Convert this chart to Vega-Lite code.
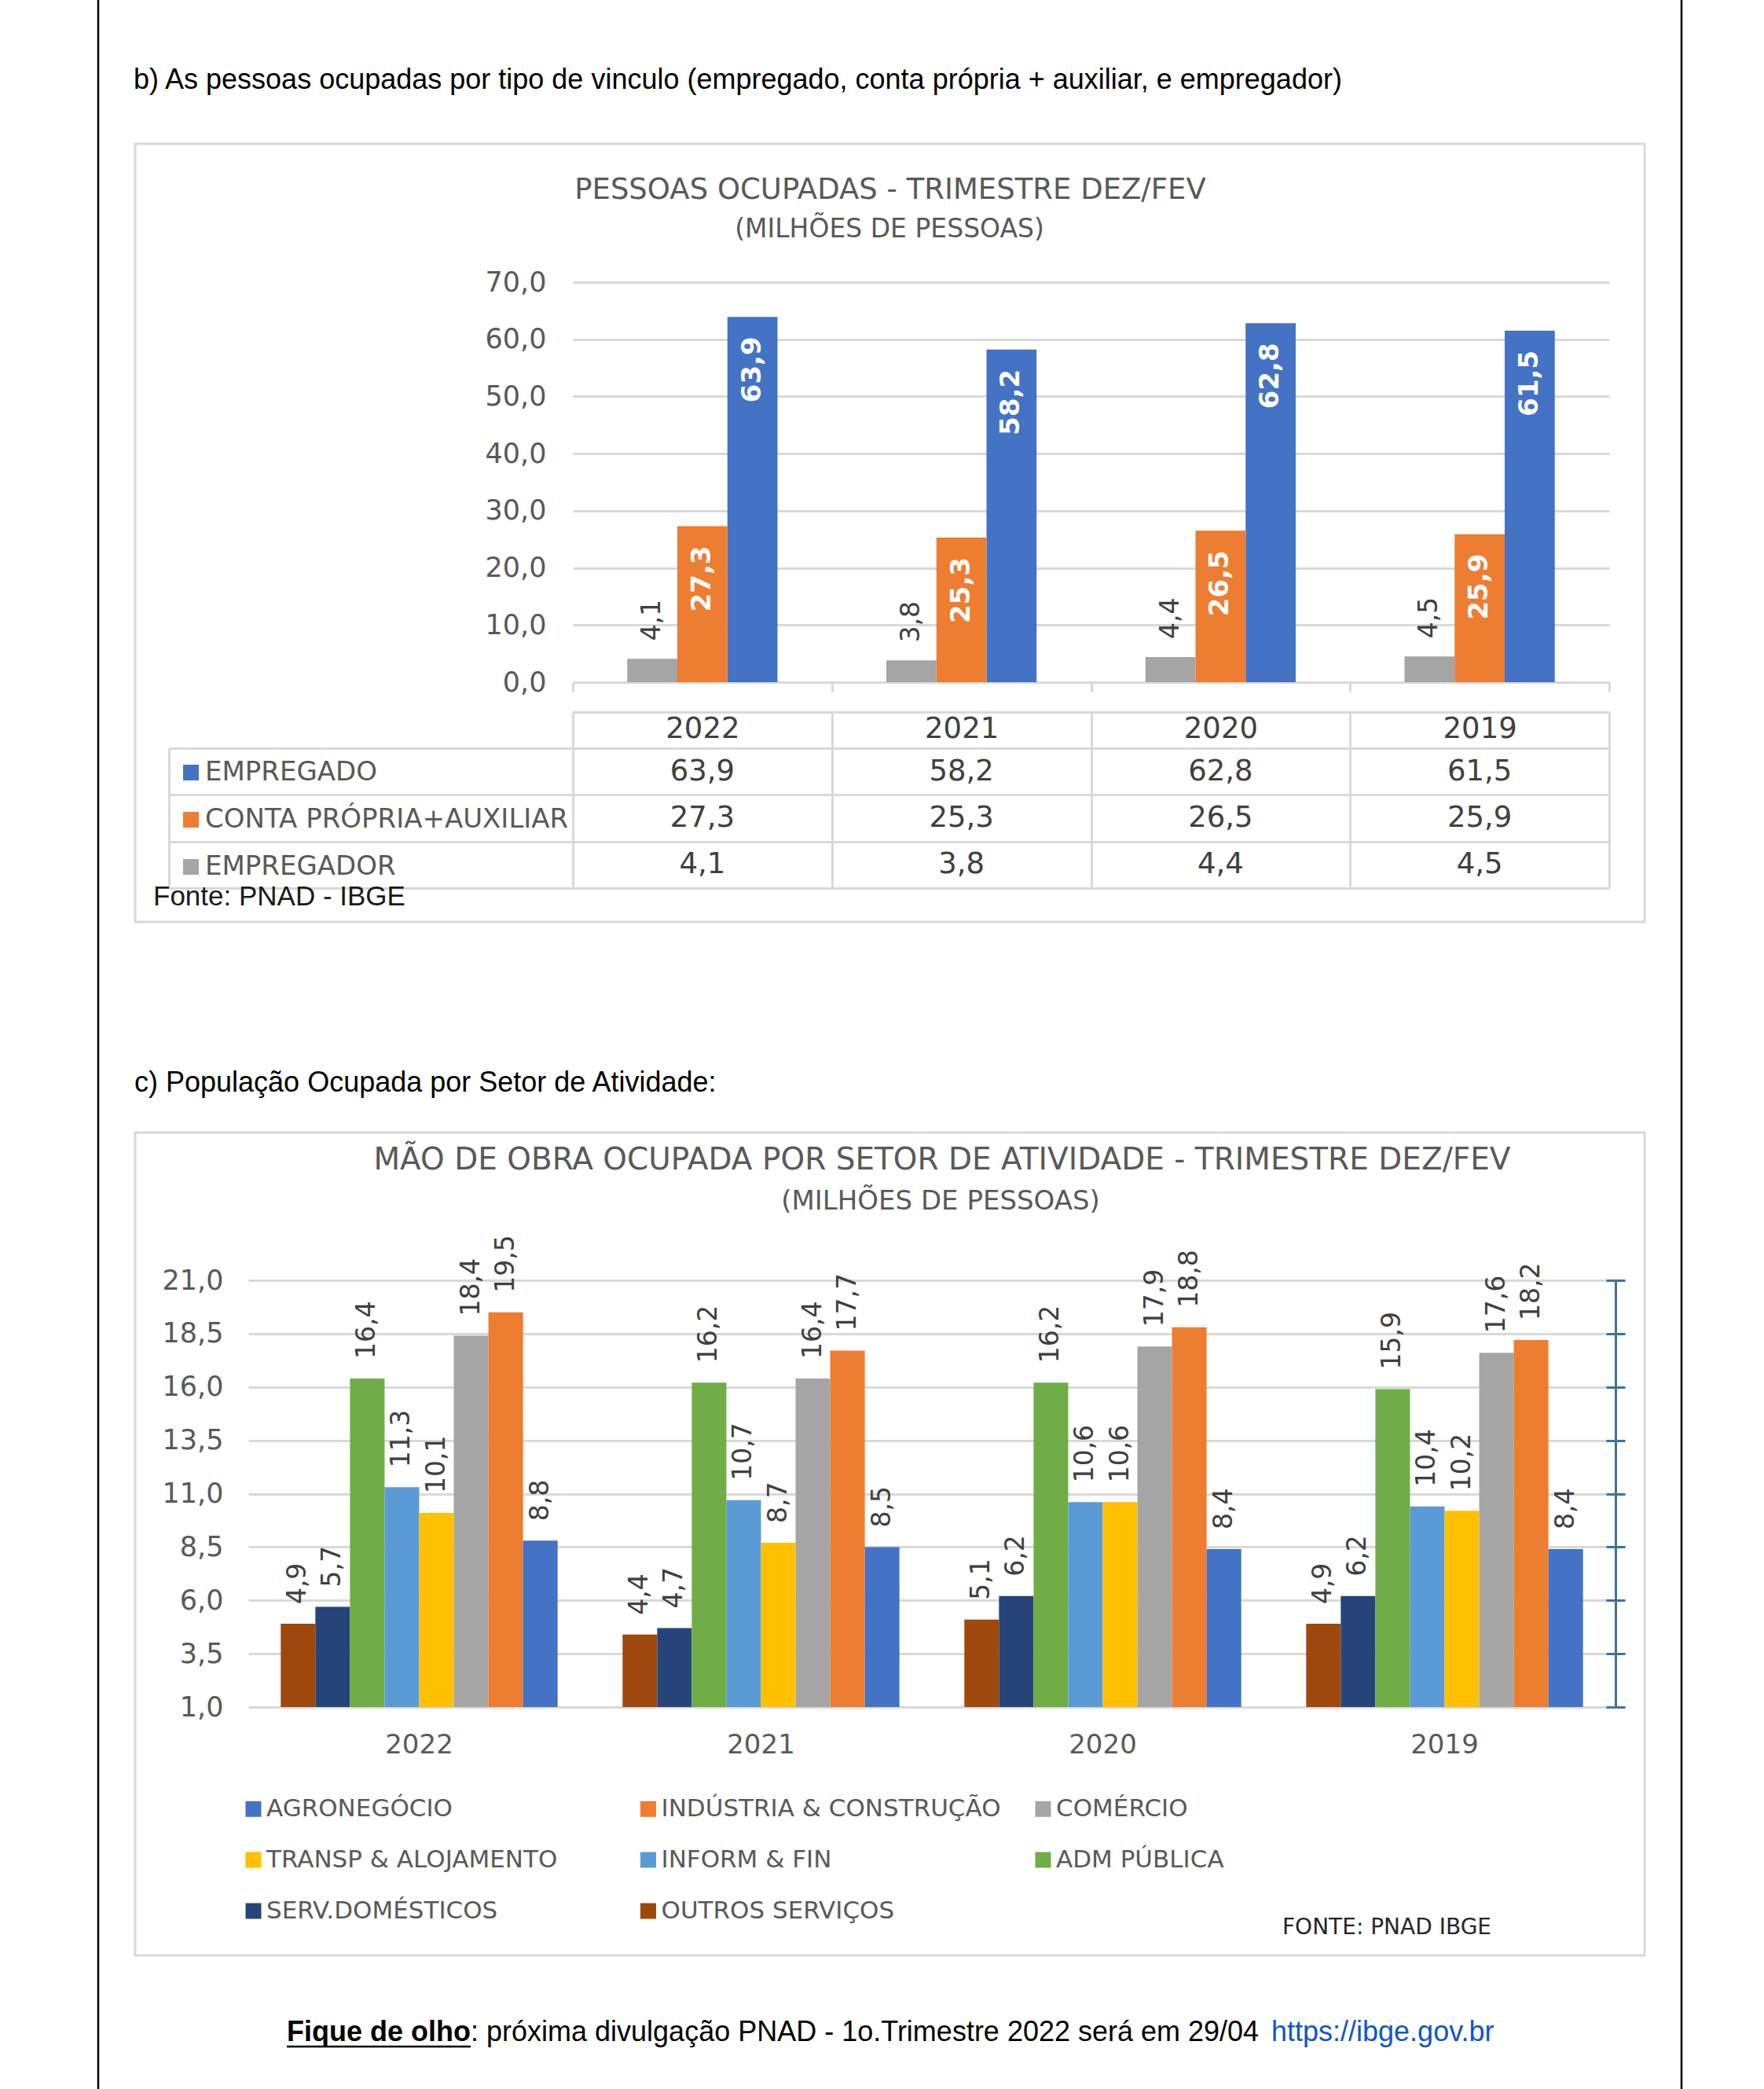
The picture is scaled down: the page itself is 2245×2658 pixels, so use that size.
{
  "$schema": "https://vega.github.io/schema/vega-lite/v6.json",
  "width": 2245,
  "height": 2658,
  "autosize": {"type": "none"},
  "padding": 0,
  "background": "white",
  "config": {
    "view": {"stroke": null},
    "locale": {"number": {"decimal": ",", "thousands": ".", "grouping": [3], "currency": ["R$", ""]}},
    "text": {"font": "DejaVu Sans"},
    "axis": {"labelFont": "DejaVu Sans", "titleFont": "DejaVu Sans"},
    "legend": {"labelFont": "DejaVu Sans"}
  },
  "datasets": {
    "c1": [
      {"ano": "2022", "tipo": "Empregado", "v": 63.9},
      {"ano": "2022", "tipo": "Conta Própria+Auxiliar", "v": 27.3},
      {"ano": "2022", "tipo": "Empregador", "v": 4.1},
      {"ano": "2021", "tipo": "Empregado", "v": 58.2},
      {"ano": "2021", "tipo": "Conta Própria+Auxiliar", "v": 25.3},
      {"ano": "2021", "tipo": "Empregador", "v": 3.8},
      {"ano": "2020", "tipo": "Empregado", "v": 62.8},
      {"ano": "2020", "tipo": "Conta Própria+Auxiliar", "v": 26.5},
      {"ano": "2020", "tipo": "Empregador", "v": 4.4},
      {"ano": "2019", "tipo": "Empregado", "v": 61.5},
      {"ano": "2019", "tipo": "Conta Própria+Auxiliar", "v": 25.9},
      {"ano": "2019", "tipo": "Empregador", "v": 4.5}
    ],
    "c2": [
      {"ano": "2022", "setor": "Outros Serviços", "v": 4.9},
      {"ano": "2022", "setor": "Serv.Domésticos", "v": 5.7},
      {"ano": "2022", "setor": "Adm Pública", "v": 16.4},
      {"ano": "2022", "setor": "Inform & Fin", "v": 11.3},
      {"ano": "2022", "setor": "Transp & Alojamento", "v": 10.1},
      {"ano": "2022", "setor": "Comércio", "v": 18.4},
      {"ano": "2022", "setor": "Indústria & Construção", "v": 19.5},
      {"ano": "2022", "setor": "Agronegócio", "v": 8.8},
      {"ano": "2021", "setor": "Outros Serviços", "v": 4.4},
      {"ano": "2021", "setor": "Serv.Domésticos", "v": 4.7},
      {"ano": "2021", "setor": "Adm Pública", "v": 16.2},
      {"ano": "2021", "setor": "Inform & Fin", "v": 10.7},
      {"ano": "2021", "setor": "Transp & Alojamento", "v": 8.7},
      {"ano": "2021", "setor": "Comércio", "v": 16.4},
      {"ano": "2021", "setor": "Indústria & Construção", "v": 17.7},
      {"ano": "2021", "setor": "Agronegócio", "v": 8.5},
      {"ano": "2020", "setor": "Outros Serviços", "v": 5.1},
      {"ano": "2020", "setor": "Serv.Domésticos", "v": 6.2},
      {"ano": "2020", "setor": "Adm Pública", "v": 16.2},
      {"ano": "2020", "setor": "Inform & Fin", "v": 10.6},
      {"ano": "2020", "setor": "Transp & Alojamento", "v": 10.6},
      {"ano": "2020", "setor": "Comércio", "v": 17.9},
      {"ano": "2020", "setor": "Indústria & Construção", "v": 18.8},
      {"ano": "2020", "setor": "Agronegócio", "v": 8.4},
      {"ano": "2019", "setor": "Outros Serviços", "v": 4.9},
      {"ano": "2019", "setor": "Serv.Domésticos", "v": 6.2},
      {"ano": "2019", "setor": "Adm Pública", "v": 15.9},
      {"ano": "2019", "setor": "Inform & Fin", "v": 10.4},
      {"ano": "2019", "setor": "Transp & Alojamento", "v": 10.2},
      {"ano": "2019", "setor": "Comércio", "v": 17.6},
      {"ano": "2019", "setor": "Indústria & Construção", "v": 18.2},
      {"ano": "2019", "setor": "Agronegócio", "v": 8.4}
    ]
  },
  "layer": [
    {
      "data": {"values": [{"k": "b"}]},
      "mark": {"type": "rect", "filled": false, "color": "#d9d9d9", "strokeWidth": 3},
      "encoding": {"x": {"value": 172}, "x2": {"value": 2093}, "y": {"value": 183}, "y2": {"value": 1173}}
    },
    {
      "data": {"values": [{"k": "c"}]},
      "mark": {"type": "rect", "filled": false, "color": "#d9d9d9", "strokeWidth": 3},
      "encoding": {"x": {"value": 172}, "x2": {"value": 2093}, "y": {"value": 1441}, "y2": {"value": 2488}}
    },
    {
      "data": {"values": [{"k": "l"}]},
      "mark": {"type": "rule", "color": "#000000", "strokeWidth": 2.5},
      "encoding": {"x": {"value": 125}}
    },
    {
      "data": {"values": [{"k": "r"}]},
      "mark": {"type": "rule", "color": "#000000", "strokeWidth": 2.5},
      "encoding": {"x": {"value": 2140}}
    },
    {
      "data": {"name": "c1"},
      "encoding": {
        "x": {"field": "ano", "type": "nominal",
              "scale": {"domain": ["2022", "2021", "2020", "2019"], "range": [729, 2048], "paddingInner": 0.42, "paddingOuter": 0.21},
              "axis": null},
        "y": {"field": "v", "type": "quantitative",
              "scale": {"domain": [0, 70], "range": [868, 359], "nice": false, "zero": false},
              "axis": {"orient": "left", "offset": -729, "title": null, "values": [0, 10, 20, 30, 40, 50, 60, 70], "format": ".1f",
                       "grid": true, "gridColor": "#d9d9d9", "gridWidth": 3, "domain": false, "ticks": false,
                       "labelPadding": 34, "labelFontSize": 35, "labelColor": "#595959"}},
        "xOffset": {"field": "tipo", "type": "nominal",
                    "scale": {"domain": ["Empregador", "Conta Própria+Auxiliar", "Empregado"], "paddingInner": 0, "paddingOuter": 0}}
      },
      "layer": [
        {
          "mark": {"type": "bar"},
          "encoding": {
            "y2": {"datum": 0},
            "color": {"field": "tipo", "type": "nominal",
                      "scale": {"domain": ["Empregado", "Conta Própria+Auxiliar", "Empregador"], "range": ["#4472c4", "#ed7d31", "#a5a5a5"]},
                      "legend": {"orient": "none", "legendX": 226, "legendY": 966, "title": null, "direction": "vertical",
                                 "symbolType": "square", "symbolSize": 400, "symbolStrokeWidth": 0,
                                 "labelFontSize": 34, "labelColor": "#595959", "labelOffset": 1, "rowPadding": 26,
                                 "padding": 0, "labelLimit": 1000, "labelExpr": "upper(datum.label)"}}
          }
        },
        {
          "transform": [{"filter": "datum.tipo != 'Empregador'"}],
          "mark": {"type": "text", "angle": 270, "align": "right", "baseline": "middle", "dx": -25,
                   "fontSize": 34, "fontWeight": "bold", "color": "#ffffff"},
          "encoding": {"text": {"field": "v", "type": "quantitative", "format": ".1f"}}
        },
        {
          "transform": [{"filter": "datum.tipo == 'Empregador'"}],
          "mark": {"type": "text", "angle": 270, "align": "left", "baseline": "middle", "dx": 23,
                   "fontSize": 33, "color": "#404040"},
          "encoding": {"text": {"field": "v", "type": "quantitative", "format": ".1f"}}
        }
      ]
    },
    {
      "data": {"name": "c1"},
      "layer": [
        {
          "mark": {"type": "text", "fontSize": 37, "color": "#404040", "baseline": "middle", "align": "center"},
          "encoding": {
            "text": {"field": "v", "type": "quantitative", "format": ".1f"},
            "x": {"field": "ano", "type": "nominal",
                  "scale": {"domain": ["2022", "2021", "2020", "2019"], "range": [729, 2048], "paddingInner": 0, "paddingOuter": 0},
                  "axis": {"orient": "top", "offset": -906, "title": null, "labelAngle": 0,
                           "domain": true, "domainColor": "#d9d9d9", "domainWidth": 3,
                           "ticks": true, "tickBand": "extent", "tickSize": -46, "tickColor": "#d9d9d9", "tickWidth": 3,
                           "grid": true, "gridColor": "#d9d9d9", "gridWidth": 3,
                           "labelFontSize": 37, "labelColor": "#404040", "labelPadding": 25, "labelBaseline": "middle"}},
            "y": {"field": "tipo", "type": "nominal",
                  "scale": {"domain": ["Empregado", "Conta Própria+Auxiliar", "Empregador"], "range": [952, 1130], "paddingInner": 0, "paddingOuter": 0},
                  "axis": {"orient": "left", "offset": -215, "title": null, "labels": false,
                           "domain": true, "domainColor": "#d9d9d9", "domainWidth": 3,
                           "ticks": true, "tickBand": "extent", "tickSize": -514, "tickColor": "#d9d9d9", "tickWidth": 3,
                           "grid": true, "gridColor": "#d9d9d9", "gridWidth": 3}}
          }
        },
        {
          "mark": {"type": "text", "opacity": 0},
          "encoding": {
            "text": {"field": "v", "type": "quantitative"},
            "x": {"field": "ano", "type": "nominal",
                  "scale": {"domain": ["2022", "2021", "2020", "2019"], "range": [729, 2048], "paddingInner": 0, "paddingOuter": 0},
                  "axis": {"orient": "bottom", "offset": -1790, "title": null, "labels": false, "domain": false, "grid": false,
                           "ticks": true, "tickBand": "extent", "tickSize": 12, "tickColor": "#d9d9d9", "tickWidth": 3}},
            "y": {"field": "tipo", "type": "nominal",
                  "scale": {"domain": ["Empregado", "Conta Própria+Auxiliar", "Empregador"], "range": [952, 1130], "paddingInner": 0, "paddingOuter": 0},
                  "axis": null}
          }
        }
      ],
      "resolve": {"axis": {"x": "independent", "y": "independent"}}
    },
    {
      "data": {"name": "c2"},
      "encoding": {
        "x": {"field": "ano", "type": "nominal",
              "scale": {"domain": ["2022", "2021", "2020", "2019"], "range": [316, 2056], "paddingInner": 0.19, "paddingOuter": 0.095},
              "axis": {"orient": "bottom", "offset": -486, "title": null, "labelAngle": 0, "domain": false, "ticks": false, "grid": false,
                       "labelFontSize": 34, "labelColor": "#595959", "labelPadding": 31}},
        "xOffset": {"field": "setor", "type": "nominal",
                    "scale": {"domain": ["Outros Serviços", "Serv.Domésticos", "Adm Pública", "Inform & Fin", "Transp & Alojamento", "Comércio", "Indústria & Construção", "Agronegócio"],
                              "paddingInner": 0, "paddingOuter": 0}}
      },
      "layer": [
        {
          "mark": {"type": "bar"},
          "encoding": {
            "y": {"field": "v", "type": "quantitative",
                  "scale": {"domain": [1, 21], "range": [2172, 1629], "nice": false, "zero": false},
                  "axis": {"orient": "left", "offset": -316, "title": null, "values": [1, 3.5, 6, 8.5, 11, 13.5, 16, 18.5, 21], "format": ".1f",
                           "grid": true, "gridColor": "#d9d9d9", "gridWidth": 3, "domain": false, "ticks": false,
                           "labelPadding": 32, "labelFontSize": 35, "labelColor": "#595959"}},
            "y2": {"datum": 1},
            "color": {"field": "setor", "type": "nominal",
                      "scale": {"domain": ["Agronegócio", "Indústria & Construção", "Comércio", "Transp & Alojamento", "Inform & Fin", "Adm Pública", "Serv.Domésticos", "Outros Serviços"],
                                "range": ["#4472c4", "#ed7d31", "#a5a5a5", "#ffc000", "#5b9bd5", "#70ad47", "#264478", "#9e480e"]},
                      "legend": {"orient": "none", "legendX": 307, "legendY": 2286, "title": null, "columns": 3, "columnPadding": 37.5,
                                 "rowPadding": 33, "gridAlign": "all", "direction": "horizontal",
                                 "symbolType": "square", "symbolSize": 400, "symbolStrokeWidth": 0,
                                 "labelFontSize": 31, "labelColor": "#595959", "labelOffset": 1,
                                 "padding": 0, "labelLimit": 1000, "labelExpr": "upper(datum.label)"}}
          }
        },
        {
          "mark": {"type": "text", "angle": 270, "align": "left", "baseline": "middle", "dx": 25, "fontSize": 33, "color": "#404040"},
          "encoding": {
            "text": {"field": "v", "type": "quantitative", "format": ".1f"},
            "y": {"field": "v", "type": "quantitative",
                  "scale": {"domain": [1, 21], "range": [2172, 1629], "nice": false, "zero": false},
                  "axis": {"orient": "right", "offset": -189, "title": null, "values": [1, 3.5, 6, 8.5, 11, 13.5, 16, 18.5, 21],
                           "labels": false, "grid": false, "domain": true, "domainColor": "#41719c", "domainWidth": 3,
                           "ticks": true, "tickSize": 12, "tickColor": "#41719c", "tickWidth": 3}}
          }
        },
        {
          "mark": {"type": "text", "opacity": 0},
          "encoding": {
            "text": {"field": "v", "type": "quantitative"},
            "y": {"field": "v", "type": "quantitative",
                  "scale": {"domain": [1, 21], "range": [2172, 1629], "nice": false, "zero": false},
                  "axis": {"orient": "right", "offset": -189, "title": null, "values": [1, 3.5, 6, 8.5, 11, 13.5, 16, 18.5, 21],
                           "labels": false, "grid": false, "domain": false,
                           "ticks": true, "tickSize": -12, "tickColor": "#41719c", "tickWidth": 3}}
          }
        }
      ],
      "resolve": {"axis": {"y": "independent"}}
    },
    {
      "data": {"values": [{"t": "b) As pessoas ocupadas por tipo de vinculo (empregado, conta própria + auxiliar, e empregador)"}]},
      "mark": {"type": "text", "font": "Liberation Sans", "fontSize": 36, "align": "left", "baseline": "middle", "color": "#000000"},
      "encoding": {"text": {"field": "t", "type": "nominal"}, "x": {"value": 170}, "y": {"value": 102}}
    },
    {
      "data": {"values": [{"t": "c) População Ocupada por Setor de Atividade:"}]},
      "mark": {"type": "text", "font": "Liberation Sans", "fontSize": 36, "align": "left", "baseline": "middle", "color": "#000000"},
      "encoding": {"text": {"field": "t", "type": "nominal"}, "x": {"value": 171}, "y": {"value": 1378}}
    },
    {
      "data": {"values": [{"t": "PESSOAS OCUPADAS - TRIMESTRE DEZ/FEV"}]},
      "mark": {"type": "text", "fontSize": 37, "align": "center", "baseline": "middle", "color": "#595959"},
      "encoding": {"text": {"field": "t", "type": "nominal"}, "x": {"value": 1133}, "y": {"value": 242}}
    },
    {
      "data": {"values": [{"t": "(MILHÕES DE PESSOAS)"}]},
      "mark": {"type": "text", "fontSize": 33, "align": "center", "baseline": "middle", "color": "#595959"},
      "encoding": {"text": {"field": "t", "type": "nominal"}, "x": {"value": 1132}, "y": {"value": 292}}
    },
    {
      "data": {"values": [{"t": "MÃO DE OBRA OCUPADA POR SETOR DE ATIVIDADE - TRIMESTRE DEZ/FEV"}]},
      "mark": {"type": "text", "fontSize": 39, "align": "center", "baseline": "middle", "color": "#595959"},
      "encoding": {"text": {"field": "t", "type": "nominal"}, "x": {"value": 1199}, "y": {"value": 1476}}
    },
    {
      "data": {"values": [{"t": "(MILHÕES DE PESSOAS)"}]},
      "mark": {"type": "text", "fontSize": 34, "align": "center", "baseline": "middle", "color": "#595959"},
      "encoding": {"text": {"field": "t", "type": "nominal"}, "x": {"value": 1197}, "y": {"value": 1529}}
    },
    {
      "data": {"values": [{"t": "Fonte: PNAD - IBGE"}]},
      "mark": {"type": "text", "font": "Liberation Sans", "fontSize": 35, "align": "left", "baseline": "middle", "color": "#1a1a1a"},
      "encoding": {"text": {"field": "t", "type": "nominal"}, "x": {"value": 195}, "y": {"value": 1141}}
    },
    {
      "data": {"values": [{"t": "FONTE: PNAD IBGE"}]},
      "mark": {"type": "text", "fontSize": 28, "align": "left", "baseline": "middle", "color": "#262626"},
      "encoding": {"text": {"field": "t", "type": "nominal"}, "x": {"value": 1632}, "y": {"value": 2453}}
    },
    {
      "data": {"values": [{"t": "Fique de olho"}]},
      "mark": {"type": "text", "font": "Liberation Sans", "fontSize": 36, "fontWeight": "bold", "align": "right", "baseline": "middle", "color": "#000000"},
      "encoding": {"text": {"field": "t", "type": "nominal"}, "x": {"value": 599}, "y": {"value": 2586}}
    },
    {
      "data": {"values": [{"t": ": próxima divulgação PNAD - 1o.Trimestre 2022 será em 29/04"}]},
      "mark": {"type": "text", "font": "Liberation Sans", "fontSize": 36, "align": "left", "baseline": "middle", "color": "#000000"},
      "encoding": {"text": {"field": "t", "type": "nominal"}, "x": {"value": 599}, "y": {"value": 2586}}
    },
    {
      "data": {"values": [{"t": "https://ibge.gov.br"}]},
      "mark": {"type": "text", "font": "Liberation Sans", "fontSize": 36, "align": "left", "baseline": "middle", "color": "#1155cc"},
      "encoding": {"text": {"field": "t", "type": "nominal"}, "x": {"value": 1618}, "y": {"value": 2586}}
    },
    {
      "data": {"values": [{"k": "u"}]},
      "mark": {"type": "rule", "color": "#000000", "strokeWidth": 2.5},
      "encoding": {"x": {"value": 365}, "x2": {"value": 599}, "y": {"value": 2604}}
    }
  ],
  "resolve": {"scale": {"x": "independent", "y": "independent", "xOffset": "independent", "color": "independent"}}
}
